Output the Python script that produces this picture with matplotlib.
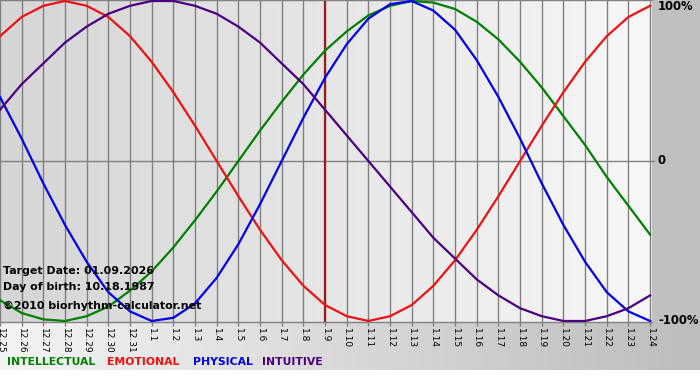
import matplotlib
matplotlib.use("Agg")
import matplotlib.pyplot as plt
import numpy as np

# biorhythm values, one per day (12.25 .. 1.24)
dates = ['12.25', '12.26', '12.27', '12.28', '12.29', '12.30', '12.31',
         '1.1', '1.2', '1.3', '1.4', '1.5', '1.6', '1.7', '1.8', '1.9',
         '1.10', '1.11', '1.12', '1.13', '1.14', '1.15', '1.16', '1.17',
         '1.18', '1.19', '1.20', '1.21', '1.22', '1.23', '1.24']
intellectual = [-0.87, -0.95, -0.99, -1.00, -0.97, -0.91, -0.81, -0.69, -0.54, -0.37,
                -0.19, 0.00, 0.19, 0.37, 0.54, 0.69, 0.81, 0.91, 0.97, 1.00,
                0.99, 0.95, 0.87, 0.76, 0.62, 0.46, 0.28, 0.10, -0.10, -0.28, -0.46]
emotional = [0.78, 0.90, 0.97, 1.00, 0.97, 0.90, 0.78, 0.62, 0.43, 0.22,
             0.00, -0.22, -0.43, -0.62, -0.78, -0.90, -0.97, -1.00, -0.97, -0.90,
             -0.78, -0.62, -0.43, -0.22, 0.00, 0.22, 0.43, 0.62, 0.78, 0.90, 0.97]
physical = [0.40, 0.14, -0.14, -0.40, -0.63, -0.82, -0.94, -1.00, -0.98, -0.89,
            -0.73, -0.52, -0.27, 0.00, 0.27, 0.52, 0.73, 0.89, 0.98, 1.00,
            0.94, 0.82, 0.63, 0.40, 0.14, -0.14, -0.40, -0.63, -0.82, -0.94, -1.00]
intuitive = [0.32, 0.48, 0.61, 0.74, 0.84, 0.92, 0.97, 1.00, 1.00, 0.97,
             0.92, 0.84, 0.74, 0.61, 0.48, 0.32, 0.16, 0.00, -0.16, -0.32,
             -0.48, -0.61, -0.74, -0.84, -0.92, -0.97, -1.00, -1.00, -0.97, -0.92, -0.84]
target_idx = 15

series = [('INTELLECTUAL', intellectual, '#008000'),
          ('EMOTIONAL', emotional, '#ee1111'),
          ('PHYSICAL', physical, '#0000ee'),
          ('INTUITIVE', intuitive, '#4b0082')]

W, H = 700, 380
def px(x, y):
    return x / W, 1 - y / H

fig = plt.figure(figsize=(7, 3.8), dpi=100, facecolor='white')

# background bands
bg = fig.add_axes([0, 0, 1, 1], zorder=0)
bg.set_xlim(0, W)
bg.set_ylim(H, 0)
bg.axis('off')
grad = np.linspace(0, 1, 256)[None, :]
bg.imshow(grad, cmap=matplotlib.colors.LinearSegmentedColormap.from_list('b', ['#f4f4f4', '#bdbdbd']),
          extent=(0, W, 370, 322), aspect='auto')
bg.add_patch(plt.Rectangle((652, 0), W - 652, 322, color='#c0c0c0', lw=0))

day_px = 21.67
plot_h = 322
ax = fig.add_axes([0, 1 - plot_h / H, 652 / W, plot_h / H], zorder=1)
xmax = 652 / day_px
ylim = 1 + 1 / 160
ax.set_xlim(0, xmax)
ax.set_ylim(-ylim, ylim)
ax.patch.set_alpha(0)
ax.imshow(grad, cmap=matplotlib.colors.LinearSegmentedColormap.from_list('p', ['#d6d6d6', '#f7f7f7']),
          extent=(0, xmax, -ylim, ylim), aspect='auto', zorder=0)

days = np.arange(len(dates))
ax.vlines(days, -ylim, ylim, color='#808080', lw=1, zorder=1)
ax.plot([0, 30.2], [0, 0], color='#808080', lw=1, zorder=1, clip_on=False)
ax.axvline(target_idx, color='#9b1c1c', lw=1.6, zorder=2)

for name, vals, col in series:
    ax.plot(days, vals, color=col, lw=1.6, zorder=3, solid_joinstyle='round')

for s in ['left', 'right']:
    ax.spines[s].set_visible(False)
for s in ['top', 'bottom']:
    ax.spines[s].set_color('#808080')
    ax.spines[s].set_linewidth(1)

ax.set_yticks([])
ax.set_xticks(days)
ax.set_xticklabels(dates, rotation=-90, fontsize=6.5)
ax.tick_params(axis='x', length=3, color='#808080', width=1, pad=1)

# right side percentage labels
for txt, yv in [('100%', 7), ('0', 161), ('-100%', 321)]:
    fig.text(*px(658, yv), txt, fontsize=8.4, fontweight='bold', va='center', ha='left')

# info text
fig.text(*px(3, 271), 'Target Date: 01.09.2026', fontsize=7.9, fontweight='bold', va='center', zorder=5)
fig.text(*px(3, 287), 'Day of birth: 10.18.1987', fontsize=7.9, fontweight='bold', va='center', zorder=5)
fig.text(*px(3, 306), '\u00a92010 biorhythm-calculator.net', fontsize=7.9, fontweight='bold', va='center', zorder=5)

# legend
for (name, vals, col), xpos in zip(series, [7, 107, 193, 262]):
    fig.text(*px(xpos, 362), name, color=col, fontsize=7.8, fontweight='bold', va='center', zorder=5)

fig.savefig('out.png', dpi=100, facecolor='white')
